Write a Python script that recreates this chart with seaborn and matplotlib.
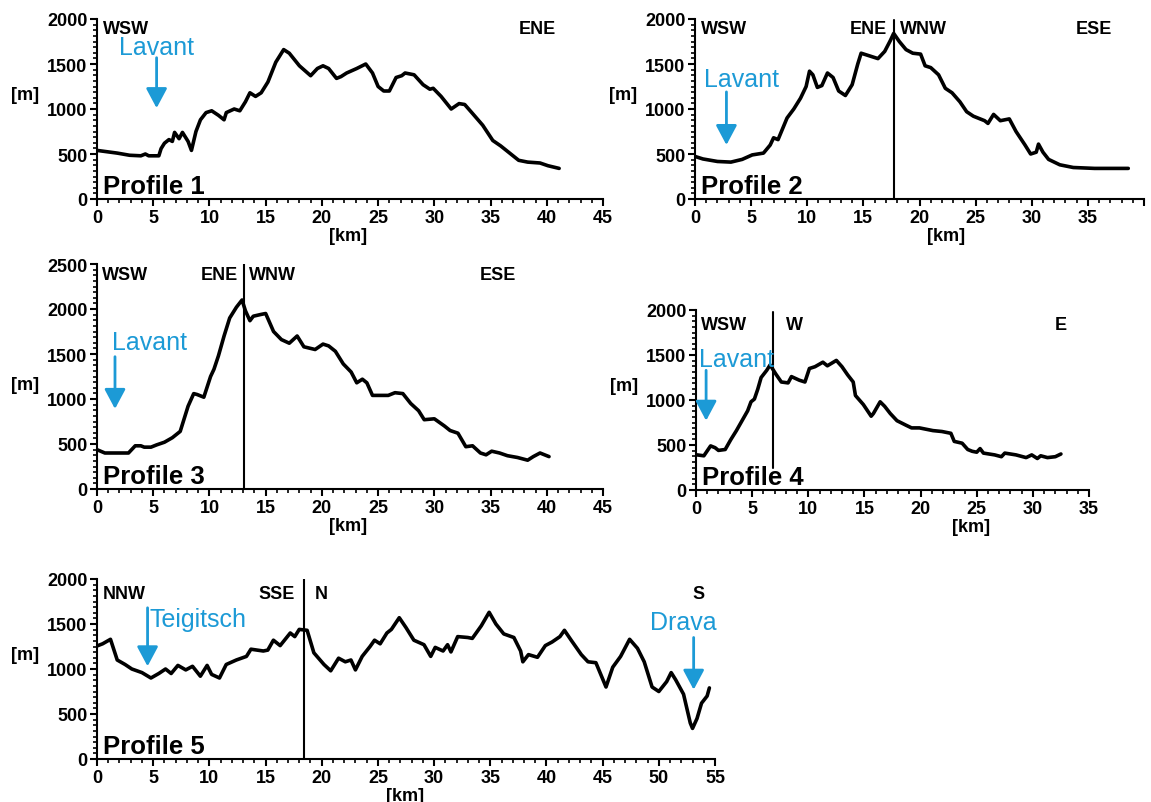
import numpy as np
import matplotlib
matplotlib.use('Agg')
import matplotlib.pyplot as plt
from matplotlib.ticker import MultipleLocator, AutoMinorLocator
import seaborn as sns

# PROFILE DATA (distance [km], elevation [m])
p1_km = [0.0, 1.8, 2.9, 3.9, 4.3, 4.6, 5.5, 5.7, 6.0, 6.4, 6.7, 6.9, 7.3, 7.6, 8.1, 8.4, 8.8, 9.2, 9.7,
         10.2, 10.8, 11.3, 11.5, 12.2, 12.7, 13.2, 13.6, 14.1, 14.6, 15.2, 15.9, 16.6, 17.1, 18.0, 19.0,
         19.6, 20.1, 20.6, 21.3, 21.7, 22.2, 23.1, 23.9, 24.5, 25.0, 25.5, 26.0, 26.6, 27.1, 27.4, 28.2,
         29.0, 29.6, 29.9, 30.6, 31.5, 32.2, 32.7, 33.4, 34.3, 35.2, 35.9, 36.6, 37.5, 38.3, 39.4, 40.1, 41.1]
p1_m = [540, 510, 486, 480, 500, 480, 480, 560, 620, 660, 640, 740, 670, 740, 640, 540, 750, 880, 960,
        980, 930, 880, 960, 1000, 980, 1080, 1180, 1140, 1180, 1300, 1520, 1660, 1620, 1480, 1370,
        1450, 1480, 1450, 1340, 1360, 1400, 1450, 1500, 1400, 1250, 1200, 1200, 1350, 1370, 1400, 1380,
        1270, 1220, 1230, 1140, 1000, 1060, 1050, 950, 820, 650, 590, 520, 430, 410, 400, 370, 340]

p2_km = [0.0, 0.7, 2.0, 3.2, 4.2, 5.1, 6.1, 6.7, 7.0, 7.4, 8.2, 8.8, 9.4, 9.9, 10.2, 10.5, 10.9, 11.3,
         11.8, 12.3, 12.8, 13.4, 14.0, 14.5, 14.8, 15.3, 16.3, 16.9, 17.4, 17.7, 18.2, 18.8, 19.4, 20.1,
         20.5, 21.0, 21.7, 22.3, 22.9, 23.6, 24.2, 24.8, 25.8, 26.1, 26.6, 27.2, 28.0, 28.3, 28.6, 29.4,
         29.9, 30.4, 30.6, 31.0, 31.5, 32.5, 33.7, 35.6, 38.6]
p2_m = [473, 445, 417, 410, 440, 490, 510, 600, 680, 660, 900, 1000, 1120, 1250, 1420, 1380, 1240, 1260,
        1400, 1350, 1200, 1150, 1270, 1500, 1620, 1600, 1560, 1640, 1760, 1840, 1750, 1660, 1620, 1610,
        1480, 1460, 1380, 1230, 1180, 1080, 970, 920, 870, 840, 940, 870, 890, 820, 750, 600,
        500, 520, 610, 520, 440, 380, 350, 340, 340]

p3_km = [0.0, 0.7, 2.8, 3.4, 3.9, 4.2, 4.8, 5.3, 6.0, 6.7, 7.4, 7.8, 8.1, 8.6, 8.9, 9.5, 10.1, 10.4,
         10.8, 11.3, 11.8, 12.4, 12.9, 13.2, 13.6, 13.9, 14.6, 15.0, 15.7, 16.4, 17.1, 17.8, 18.4, 19.4,
         20.1, 20.6, 21.2, 21.9, 22.6, 23.1, 23.6, 24.0, 24.5, 25.9, 26.5, 27.2, 27.9, 28.6, 29.1, 30.0,
         30.9, 31.4, 32.1, 32.8, 33.4, 34.1, 34.6, 35.1, 35.8, 36.5, 37.4, 38.3, 38.8, 39.4, 40.2]
p3_m = [437, 400, 400, 480, 480, 465, 465, 490, 520, 570, 640, 800, 920, 1060, 1050, 1020, 1250, 1330,
        1480, 1700, 1900, 2020, 2100, 1980, 1870, 1920, 1940, 1950, 1750, 1660, 1620, 1700, 1580, 1550,
        1610, 1590, 1530, 1390, 1300, 1180, 1220, 1180, 1040, 1040, 1070, 1060, 950, 870, 770, 780,
        700, 650, 620, 470, 480, 400, 380, 420, 400, 370, 350, 320, 360, 400, 360]

p4_km = [0.1, 0.7, 1.3, 1.7, 2.0, 2.6, 3.1, 3.6, 4.1, 4.6, 4.9, 5.2, 5.5, 5.8, 6.3, 6.6, 7.1, 7.6, 8.2,
         8.5, 9.2, 9.7, 10.1, 10.6, 11.3, 11.7, 12.5, 13.0, 13.5, 14.0, 14.2, 14.9, 15.6, 15.8, 16.4,
         16.8, 17.3, 17.9, 18.7, 19.2, 19.9, 21.1, 21.9, 22.7, 23.0, 23.7, 24.2, 24.6, 25.0, 25.3, 25.6,
         26.6, 27.2, 27.5, 28.5, 29.4, 29.9, 30.4, 30.7, 31.3, 32.0, 32.5]
p4_m = [390, 380, 490, 470, 440, 450, 560, 660, 770, 880, 980, 1010, 1120, 1250, 1330, 1390, 1290, 1200, 1190,
        1260, 1220, 1200, 1350, 1370, 1420, 1380, 1440, 1370, 1280, 1200, 1050, 950, 820, 850, 980,
        930, 850, 770, 720, 690, 690, 660, 650, 630, 540, 520, 450, 430, 420, 460, 410,
        390, 370, 410, 390, 360, 390, 350, 380, 360, 370, 400]

p5_km = [0.0, 0.5, 1.2, 1.8, 2.5, 3.1, 4.0, 4.8, 5.5, 6.1, 6.6, 7.2, 7.9, 8.5, 9.2, 9.8, 10.2, 10.9,
         11.5, 12.4, 13.3, 13.7, 14.8, 15.2, 15.7, 16.3, 17.2, 17.6, 18.0, 18.7, 19.3, 20.2, 20.8, 21.5,
         22.1, 22.6, 23.0, 23.6, 24.3, 24.7, 25.2, 25.8, 26.2, 26.9, 27.5, 28.2, 29.1, 29.7, 30.1, 30.8,
         31.2, 31.5, 32.1, 33.0, 33.4, 34.2, 34.9, 35.5, 36.2, 37.1, 37.7, 37.9, 38.4, 39.2, 39.9, 40.5,
         41.2, 41.6, 42.2, 43.1, 43.7, 44.4, 45.3, 45.9, 46.6, 47.4, 48.1, 48.7, 49.4, 50.0, 50.7, 51.1,
         51.5, 52.2, 52.8, 53.0, 53.4, 53.8, 54.3, 54.5]
p5_m = [1256, 1280, 1330, 1100, 1050, 1000, 960, 900, 950, 1000, 950, 1040, 990, 1030, 920, 1040, 940, 900,
        1050, 1100, 1140, 1220, 1200, 1210, 1320, 1260, 1400, 1360, 1440, 1430, 1180, 1050, 980, 1120,
        1080, 1100, 990, 1140, 1250, 1320, 1280, 1400, 1440, 1570, 1460, 1320, 1270, 1140, 1240, 1200,
        1270, 1190, 1360, 1350, 1340, 1480, 1630, 1500, 1390, 1350, 1200, 1080, 1160, 1130, 1260, 1300,
        1360, 1430, 1320, 1160, 1080, 1070, 800, 1020, 1140, 1330, 1230, 1080, 800, 750, 860, 960,
        880, 720, 400, 340, 450, 620, 700, 790]

# orientation labels: (text, km, ha)
p1_dirs = [('WSW', 0.5, 'left'), ('ENE', 39.2, 'center')]
p2_dirs = [('WSW', 0.5, 'left'), ('ENE', 17.1, 'right'), ('WNW', 18.3, 'left'), ('ESE', 35.5, 'center')]
p3_dirs = [('WSW', 0.4, 'left'), ('ENE', 12.5, 'right'), ('WNW', 13.5, 'left'), ('ESE', 35.7, 'center')]
p4_dirs = [('WSW', 0.4, 'left'), ('W', 8.0, 'left'), ('E', 32.5, 'center')]
p5_dirs = [('NNW', 0.5, 'left'), ('SSE', 17.6, 'right'), ('N', 19.4, 'left'), ('S', 53.5, 'center')]

# rivers: (name, arrow km, arrow tail m, arrow tip m, text km, text m, ha)
p1_rivers = [('Lavant', 5.3, 1570, 1010, 5.3, 1690, 'center')]
p2_rivers = [('Lavant', 2.8, 1190, 600, 4.1, 1330, 'center')]
p3_rivers = [('Lavant', 1.6, 1470, 890, 4.7, 1630, 'center')]
p4_rivers = [('Lavant', 0.9, 1330, 770, 0.3, 1460, 'left')]
p5_rivers = [('Teigitsch', 4.5, 1680, 1030, 4.7, 1560, 'left'),
             ('Drava', 53.1, 1350, 770, 52.2, 1520, 'center')]

# divides: (km, bottom m, top m)
p2_div = (17.7, 0, 1990)
p3_div = (13.05, 0, 2500)
p4_div = (6.85, 250, 1980)
p5_div = (18.4, 0, 2000)

sns.set_style('ticks')
plt.rcParams['font.family'] = ['Liberation Sans', 'DejaVu Sans']
plt.rcParams['font.weight'] = 'bold'
plt.rcParams['text.color'] = 'black'
plt.rcParams['xtick.color'] = 'black'
plt.rcParams['ytick.color'] = 'black'
plt.rcParams['axes.edgecolor'] = 'black'

blue = '#1c9ad6'
W, H = 1151, 803
fig = plt.figure(figsize=(W / 100, H / 100), dpi=100)


def px_axes(left, right, top, bottom):
    return fig.add_axes([left / W, (H - bottom) / H, (right - left) / W, (bottom - top) / H])


panels = [
    # (axes px box, km, m, xmax, ymax, name, dirs, dir y, rivers, divide, km label pos)
    ((97, 603, 20, 200), p1_km, p1_m, 45, 2000, 'Profile 1', p1_dirs, 1900, p1_rivers, None, 22.3),
    ((695, 1144, 20, 200), p2_km, p2_m, 40, 2000, 'Profile 2', p2_dirs, 1900, p2_rivers, p2_div, 22.4),
    ((97, 603, 265, 490), p3_km, p3_m, 45, 2500, 'Profile 3', p3_dirs, 2380, p3_rivers, p3_div, 22.3),
    ((696, 1089, 311, 491), p4_km, p4_m, 35, 2000, 'Profile 4', p4_dirs, 1840, p4_rivers, p4_div, 24.5),
    ((97, 715, 580, 760), p5_km, p5_m, 55, 2000, 'Profile 5', p5_dirs, 1840, p5_rivers, p5_div, 27.4),
]

for box, km, m, xmax, ymax, name, dirs, dir_y, rivers, div, km_pos in panels:
    ax = px_axes(*box)
    sns.lineplot(x=km, y=m, ax=ax, color='black', linewidth=2.6, estimator=None, sort=False)
    if div is not None:
        ax.plot([div[0], div[0]], [div[1], div[2]], color='black', linewidth=1.5)

    ax.set_xlim(0, xmax)
    ax.set_ylim(0, ymax)
    ax.xaxis.set_major_locator(MultipleLocator(5))
    ax.xaxis.set_minor_locator(MultipleLocator(1))
    ax.yaxis.set_major_locator(MultipleLocator(500))
    ax.yaxis.set_minor_locator(AutoMinorLocator(8))
    if xmax == 40:
        ax.set_xticks(np.arange(0, 41, 5))
        ax.set_xticklabels([str(v) for v in range(0, 36, 5)] + [''])
    sns.despine(ax=ax)
    for s in ['left', 'bottom']:
        ax.spines[s].set_linewidth(1.5)
        ax.spines[s].set_color('black')
    ax.tick_params(which='major', length=5, width=1.5, labelsize=13, pad=2, colors='black')
    ax.tick_params(which='minor', length=3, width=1.2, colors='black')
    for lab in ax.get_xticklabels() + ax.get_yticklabels():
        lab.set_fontweight('bold')
    ax.set_xlabel('')
    ax.set_ylabel('')
    ax.patch.set_alpha(0)

    ax.annotate('[m]', xy=(0, 1160), xycoords=('axes fraction', 'data'), xytext=(-52, 0),
                textcoords='offset points', ha='center', va='center', fontsize=13,
                fontweight='bold', color='black')
    ax.annotate('[km]', xy=(km_pos, 0), xytext=(0, -26), textcoords='offset points',
                ha='center', va='center', fontsize=13, fontweight='bold', color='black',
                annotation_clip=False)

    ax.text(0.5, 70, name, fontsize=18.5, fontweight='bold', ha='left', va='baseline', color='black')
    for txt, x, ha in dirs:
        ax.text(x, dir_y, txt, fontsize=13, fontweight='bold', ha=ha, va='center', color='black')
    for rname, ax_km, tail, tip, tx, ty, ha in rivers:
        ax.annotate('', xy=(ax_km, tip), xytext=(ax_km, tail),
                    arrowprops=dict(arrowstyle='-|>,head_length=0.6,head_width=0.32',
                                    color=blue, lw=2, mutation_scale=20, shrinkA=0, shrinkB=0))
        ax.text(tx, ty, rname, color=blue, fontsize=18, fontweight='normal', ha=ha, va='center')

fig.savefig('out.png', dpi=100, facecolor='white')
